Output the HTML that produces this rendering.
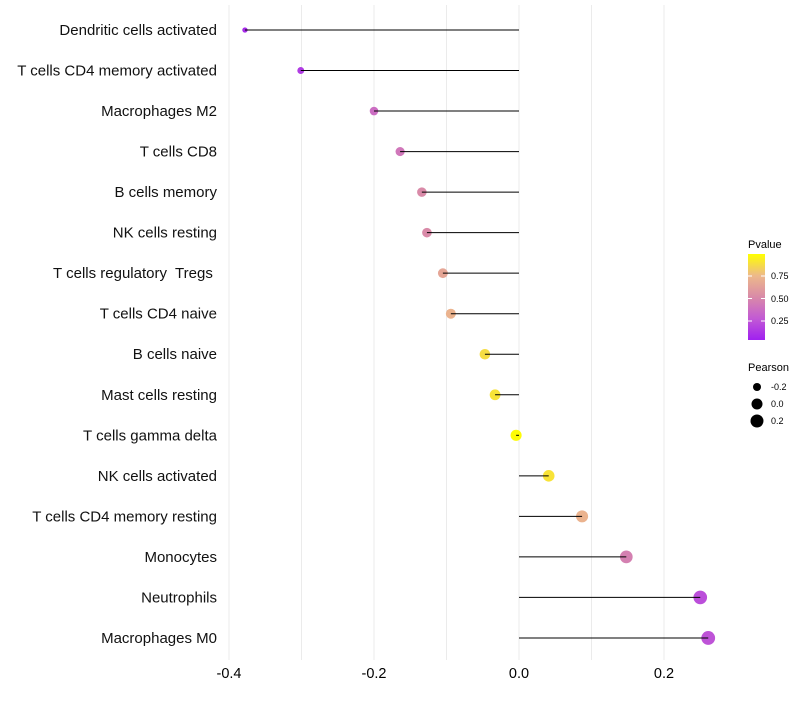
<!DOCTYPE html>
<html><head><meta charset="utf-8"><style>
body{margin:0;background:#fff;}
svg text{font-family:"Liberation Sans",Arial,sans-serif;white-space:pre;}
</style></head><body>
<svg id="c" width="800" height="700">
<defs><linearGradient id="pg" x1="0" y1="1" x2="0" y2="0">
<stop offset="0" stop-color="#a020f0"/><stop offset="0.25" stop-color="#c25ad4"/>
<stop offset="0.5" stop-color="#d98aa8"/><stop offset="0.75" stop-color="#edb98a"/>
<stop offset="1" stop-color="#ffff00"/></linearGradient></defs>
<g id="grid"></g><g id="marks"></g><g id="labels"></g>
<g>
<text x="748" y="248" font-size="11">Pvalue</text>
<rect x="748" y="254" width="17" height="86" fill="url(#pg)"/>
<line x1="748" x2="752" y1="276" y2="276" stroke="#fff"/><line x1="761" x2="765" y1="276" y2="276" stroke="#fff"/>
<line x1="748" x2="752" y1="298.5" y2="298.5" stroke="#fff"/><line x1="761" x2="765" y1="298.5" y2="298.5" stroke="#fff"/>
<line x1="748" x2="752" y1="321" y2="321" stroke="#fff"/><line x1="761" x2="765" y1="321" y2="321" stroke="#fff"/>
<text x="771" y="279" font-size="9">0.75</text><text x="771" y="302" font-size="9">0.50</text><text x="771" y="324" font-size="9">0.25</text>
</g>
<g>
<text x="748" y="371" font-size="11">Pearson</text>
<circle cx="757" cy="387" r="4"/><circle cx="757" cy="404" r="5.5"/><circle cx="757" cy="421" r="6.5"/>
<text x="771" y="390" font-size="9">-0.2</text><text x="771" y="407" font-size="9">0.0</text><text x="771" y="424" font-size="9">0.2</text>
</g>
</svg>
<script>
const categories=["Dendritic cells activated","T cells CD4 memory activated","Macrophages M2","T cells CD8","B cells memory","NK cells resting","T cells regulatory  Tregs ","T cells CD4 naive","B cells naive","Mast cells resting","T cells gamma delta","NK cells activated","T cells CD4 memory resting","Monocytes","Neutrophils","Macrophages M0"];
const pearson=[-0.378,-0.301,-0.2,-0.164,-0.134,-0.127,-0.105,-0.094,-0.047,-0.033,-0.004,0.041,0.087,0.148,0.25,0.261];
const pvalue=[0.05,0.12,0.35,0.4,0.5,0.5,0.65,0.72,0.88,0.9,0.99,0.9,0.72,0.45,0.2,0.22];
const xTicks=[-0.4,-0.2,0.0,0.2];
const xTickLabels=["-0.4","-0.2","0.0","0.2"];
const NS="http://www.w3.org/2000/svg";
const X=v=>519+v*725;
const Y=i=>30+i*40.53;
const R=v=>Math.sqrt(Math.max(2,31+63*v));
const stops=[[0,[160,32,240]],[0.25,[194,90,212]],[0.5,[217,138,168]],[0.75,[237,185,138]],[1,[255,255,0]]];
function col(p){for(let k=1;k<stops.length;k++){if(p<=stops[k][0]){const a=stops[k-1],b=stops[k],t=(p-a[0])/(b[0]-a[0]);return 'rgb('+a[1].map((c,j)=>Math.round(c+(b[1][j]-c)*t)).join(',')+')';}}return 'rgb(255,255,0)';}
function mk(t,a,p){const e=document.createElementNS(NS,t);for(const k in a)e.setAttribute(k,a[k]);p.appendChild(e);return e;}
const grid=document.getElementById('grid'),marks=document.getElementById('marks'),labels=document.getElementById('labels');
for(let v=-0.4;v<=0.21;v+=0.1){const g=mk('line',{x1:X(v),x2:X(v),y1:5,y2:660,stroke:'#ebebeb','stroke-width':1},grid);

}
xTicks.forEach((v,i)=>{const t=mk('text',{x:X(v),y:678,'font-size':14.5,'text-anchor':'middle',fill:'#000'},labels);t.textContent=xTickLabels[i];

});
categories.forEach((c,i)=>{
const t=mk('text',{x:217,y:Y(i)+5,'font-size':15,'text-anchor':'end',fill:'#111'},labels);t.textContent=c;


const p=mk('circle',{cx:X(pearson[i]),cy:Y(i),r:R(pearson[i]),fill:col(pvalue[i])},marks);


const l=mk('line',{x1:X(0),x2:X(pearson[i]),y1:Y(i),y2:Y(i),stroke:'#000','stroke-width':1},marks);


});
</script>
</body></html>
